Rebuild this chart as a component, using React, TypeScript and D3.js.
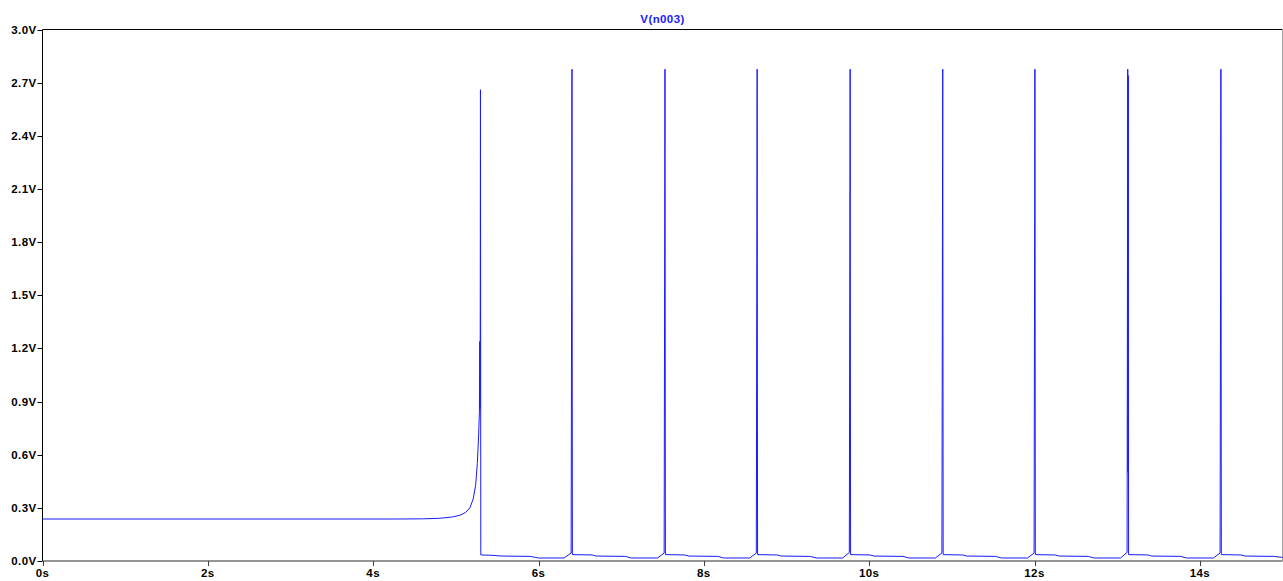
import * as d3 from 'd3';

// V(n003) transient trace, [time in s, volts]
const trace: [number, number][] = [
  [0, 0.237], [4.3, 0.237], [4.6, 0.238], [4.8, 0.241], [4.95, 0.248], [5.05, 0.258],
  [5.12, 0.275], [5.17, 0.3], [5.21, 0.35], [5.24, 0.43], [5.26, 0.55], [5.275, 0.7],
  [5.285, 0.84], [5.29, 1.24], [5.292, 0.86], [5.295, 1.24], [5.298, 2.66], [5.302, 0.034],
  [5.45, 0.032], [5.55, 0.028], [5.9, 0.026], [6.0, 0.017], [6.31, 0.017], [6.395, 0.045], [6.405, 2.776], [6.41, 0.036],
  [6.65, 0.034], [6.7, 0.028], [7.05, 0.026], [7.12, 0.017], [7.44, 0.017], [7.52, 0.045], [7.53, 2.776], [7.535, 0.036],
  [7.77, 0.034], [7.82, 0.028], [8.17, 0.026], [8.24, 0.017], [8.555, 0.017], [8.635, 0.045], [8.645, 2.776], [8.65, 0.036],
  [8.89, 0.034], [8.94, 0.028], [9.29, 0.026], [9.36, 0.017], [9.68, 0.017], [9.76, 0.048], [9.77, 2.776], [9.775, 0.036],
  [10.01, 0.034], [10.06, 0.028], [10.41, 0.026], [10.48, 0.017], [10.8, 0.017], [10.88, 0.045], [10.89, 2.776], [10.895, 0.036],
  [11.13, 0.034], [11.18, 0.028], [11.53, 0.026], [11.6, 0.017], [11.915, 0.017], [11.995, 0.045], [12.005, 2.776], [12.01, 0.036],
  [12.25, 0.034], [12.3, 0.028], [12.65, 0.026], [12.72, 0.017], [13.04, 0.017], [13.12, 0.048], [13.128, 2.776], [13.131, 0.5], [13.134, 2.74], [13.138, 0.036],
  [13.37, 0.034], [13.42, 0.028], [13.77, 0.026], [13.84, 0.017], [14.165, 0.017], [14.245, 0.045], [14.255, 2.776], [14.26, 0.036],
  [14.5, 0.034], [14.55, 0.028], [14.9, 0.026], [15, 0.02],
];

const yTicks = [0, 0.3, 0.6, 0.9, 1.2, 1.5, 1.8, 2.1, 2.4, 2.7, 3.0];
const xTicks = [0, 2, 4, 6, 8, 10, 12, 14];
const title = 'V(n003)';

const W = 1283;
const H = 581;
const plot = { left: 42.5, right: 1282.5, top: 29.5, bottom: 561 };

export default function App() {
  const x = d3.scaleLinear().domain([0, 15]).range([plot.left, plot.right]);
  const y = d3.scaleLinear().domain([0, 3]).range([plot.bottom, plot.top]);

  const line = d3
    .line<[number, number]>()
    .x((d) => x(d[0]))
    .y((d) => y(d[1]));

  const font = { fontFamily: '"Liberation Sans", Arial, sans-serif', fontWeight: 700, fontSize: 11.5 };

  return (
    <svg
      width={W}
      height={H}
      style={{ position: 'absolute', left: 0, top: 0, background: '#fff' }}
    >
      {/* frame */}
      <line x1={plot.left} x2={plot.right} y1={plot.top} y2={plot.top} stroke="#000" />
      <line x1={plot.left} x2={plot.left} y1={plot.top} y2={plot.bottom} stroke="#000" />
      <line x1={plot.right} x2={plot.right} y1={plot.top} y2={plot.bottom} stroke="#a0a0a0" />
      <line x1={plot.left} x2={plot.right} y1={plot.bottom} y2={plot.bottom} stroke="#707070" strokeWidth={1.5} />

      {/* y axis */}
      {yTicks.map((t) => (
        <g key={t}>
          <line x1={plot.left - 5} x2={plot.left} y1={Math.round(y(t)) + 0.5} y2={Math.round(y(t)) + 0.5} stroke="#000" />
          <text x={plot.left - 6} y={y(t) + 4} textAnchor="end" fill="#000" style={font} letterSpacing={0.4}>
            {t.toFixed(1)}V
          </text>
        </g>
      ))}

      {/* x axis */}
      {xTicks.map((t) => (
        <g key={t}>
          <line x1={Math.round(x(t)) + 0.5} x2={Math.round(x(t)) + 0.5} y1={plot.bottom} y2={plot.bottom + 5} stroke="#404040" />
          <text x={x(t)} y={577} textAnchor="middle" fill="#000" style={font} letterSpacing={0.4}>
            {t}s
          </text>
        </g>
      ))}

      <text x={(plot.left + plot.right) / 2} y={23} textAnchor="middle" fill="#2020ff" style={font} letterSpacing={0.4}>
        {title}
      </text>

      <path d={line(trace) ?? ''} fill="none" stroke="#1a1aff" strokeWidth={1} />
    </svg>
  );
}
